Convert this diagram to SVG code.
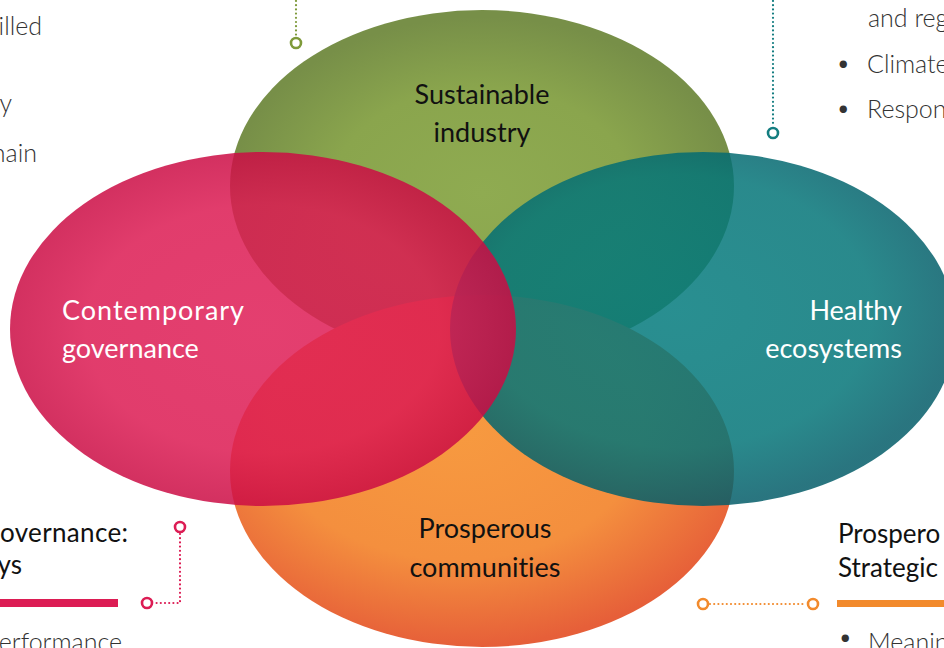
<svg xmlns="http://www.w3.org/2000/svg" width="944" height="648" viewBox="0 0 944 648">
  <defs>
    <radialGradient id="gGreen" cx="50%" cy="52%" r="50%">
      <stop offset="0" stop-color="#8fab51"/>
      <stop offset="0.6" stop-color="#8aa54d"/>
      <stop offset="1" stop-color="#778f48"/>
    </radialGradient>
    <radialGradient id="gOrange" cx="45%" cy="38%" r="62%">
      <stop offset="0" stop-color="#f79a40"/>
      <stop offset="0.6" stop-color="#f48f3e"/>
      <stop offset="1" stop-color="#e65f39"/>
    </radialGradient>
    <radialGradient id="gTeal" cx="45%" cy="45%" r="55%">
      <stop offset="0" stop-color="#037b7d"/>
      <stop offset="0.7" stop-color="#047578"/>
      <stop offset="1" stop-color="#045d69"/>
    </radialGradient>
    <radialGradient id="gRed" cx="50%" cy="50%" r="50%">
      <stop offset="0" stop-color="#df1d56"/>
      <stop offset="0.7" stop-color="#dc1a52"/>
      <stop offset="1" stop-color="#cb0c44"/>
    </radialGradient>
  </defs>
  <style>
    text { font-variant-ligatures: none; }
    .lbl { font-family: Lato, "Open Sans", sans-serif; font-size: 27px; }
    .dark { fill: #111111; }
    .light { fill: #ffffff; }
    .head { font-family: Lato, "Open Sans", sans-serif; font-size: 26px; fill: #111111; }
    .body { font-family: Lato, "Open Sans", sans-serif; font-weight: 300; font-size: 25px; fill: #333333; }
    .dot { fill: none; stroke-width: 2.2; stroke-linecap: round; stroke-dasharray: 0 4.2; }
    .ring { fill: #ffffff; stroke-width: 2.6; }
    .ov { opacity: 0.85; }
  </style>

  <g id="sustainable-industry">
    <ellipse cx="482" cy="186" rx="252" ry="176" fill="url(#gGreen)"/>
    <text class="lbl dark" x="482" y="104" text-anchor="middle">Sustainable</text>
    <text class="lbl dark" x="482" y="142" text-anchor="middle">industry</text>
  </g>

  <g id="prosperous-communities">
    <ellipse cx="482" cy="471" rx="252" ry="176" fill="url(#gOrange)"/>
    <text class="lbl dark" x="485" y="538" text-anchor="middle">Prosperous</text>
    <text class="lbl dark" x="485" y="577" text-anchor="middle">communities</text>
  </g>

  <g id="healthy-ecosystems">
    <ellipse class="ov" cx="703" cy="329" rx="253" ry="177" fill="url(#gTeal)"/>
    <text class="lbl light" x="902" y="320" text-anchor="end">Healthy</text>
    <text class="lbl light" x="902" y="358" text-anchor="end">ecosystems</text>
  </g>

  <g id="contemporary-governance">
    <ellipse class="ov" cx="263" cy="329" rx="253" ry="177" fill="url(#gRed)"/>
    <text class="lbl light" x="62" y="320" textLength="182" lengthAdjust="spacing">Contemporary</text>
    <text class="lbl light" x="62" y="358">governance</text>
  </g>

  <g id="connectors">
    <line class="dot" x1="296" y1="1" x2="296" y2="36" stroke="#7e9a3a"/>
    <circle class="ring" cx="296" cy="43" r="5" stroke="#7e9a3a"/>

    <line class="dot" x1="773" y1="1" x2="773" y2="126" stroke="#137d80"/>
    <circle class="ring" cx="773" cy="133" r="5" stroke="#137d80"/>

    <polyline class="dot" points="180,534 180,603 154,603" stroke="#dc1c54"/>
    <circle class="ring" cx="180" cy="527" r="5" stroke="#dc1c54"/>
    <circle class="ring" cx="147" cy="603" r="5" stroke="#dc1c54"/>

    <line class="dot" x1="710" y1="604" x2="806" y2="604" stroke="#f28a2c"/>
    <circle class="ring" cx="703" cy="604" r="5" stroke="#f28a2c"/>
    <circle class="ring" cx="813" cy="604" r="5" stroke="#f28a2c"/>
  </g>

  <g id="notes">
    <text class="body" x="42" y="35" text-anchor="end">illed</text>
    <text class="body" x="12" y="112" text-anchor="end">y</text>
    <text class="body" x="37" y="162" text-anchor="end">nain</text>

    <text class="body" x="868" y="27">and reg</text>
    <text class="body" x="836" y="72">•</text>
    <text class="body" x="867" y="73">Climate</text>
    <text class="body" x="836" y="117">•</text>
    <text class="body" x="867" y="118">Respon</text>

    <text class="head" x="0" y="542" textLength="128" lengthAdjust="spacing">overnance:</text>
    <text class="head" x="22" y="574" text-anchor="end">ys</text>
    <rect x="0" y="599" width="118" height="8" fill="#dc1c54"/>
    <text class="body" x="122" y="651" text-anchor="end">erformance</text>

    <text class="head" x="838" y="543">Prospero</text>
    <text class="head" x="838" y="577">Strategic</text>
    <rect x="837" y="600" width="107" height="7" fill="#f28a2c"/>
    <text class="body" x="838" y="646">•</text>
    <text class="body" x="868" y="651">Meanin</text>
  </g>
</svg>
